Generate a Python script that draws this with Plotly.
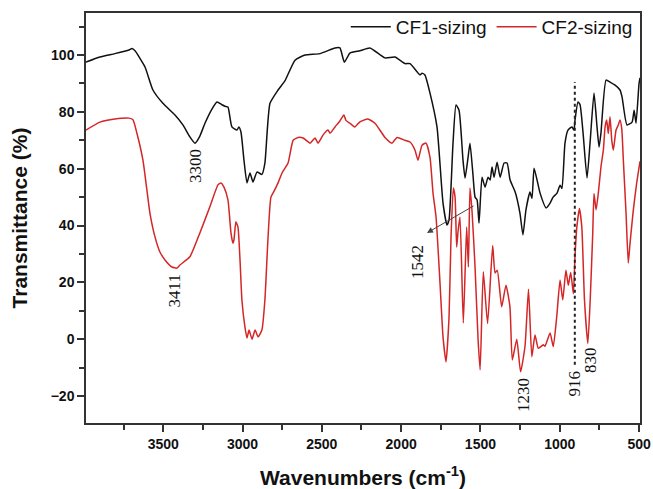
import plotly.graph_objects as go

# CF1-sizing (black) spectrum: wavenumber (cm-1) and transmittance (%)
cf1_wn = [3987, 3899, 3805, 3716, 3697, 3678, 3615, 3565, 3502, 3426, 3376, 3332, 3300, 3269,
          3237, 3193, 3161, 3130, 3111, 3092, 3067, 3035, 3023, 3010, 2991, 2972, 2953, 2934,
          2909, 2878, 2859, 2827, 2776, 2732, 2669, 2606, 2512, 2417, 2386, 2358, 2323, 2260,
          2197, 2102, 2039, 1976, 1944, 1881, 1868, 1850, 1818, 1774, 1736, 1711, 1698, 1673,
          1654, 1635, 1610, 1597, 1578, 1566, 1547, 1534, 1521, 1509, 1490, 1471, 1452, 1439,
          1427, 1414, 1395, 1376, 1351, 1332, 1313, 1281, 1251, 1232, 1213, 1188, 1175, 1162,
          1143, 1124, 1086, 1061, 1042, 1017, 998, 986, 967, 948, 923, 910, 904, 885, 872, 853,
          828, 809, 784, 765, 752, 740, 708, 683, 651, 620, 607, 576, 544, 531, 519, 500, 494]
cf1_t = [97.5, 99.3, 100.5, 101.8, 102.3, 101.5, 95.8, 87.7, 83.0, 78.9, 75.4, 71.2, 69.0, 71.5,
         76.0, 81.0, 83.5, 82.5, 82.0, 81.7, 74.7, 73.6, 74.7, 72.9, 63.0, 55.0, 58.5, 55.3,
         58.8, 58.0, 62.0, 83.0, 87.7, 91.0, 98.2, 100.0, 100.5, 102.5, 102.5, 97.5, 100.7, 101.5,
         102.5, 99.0, 99.3, 97.0, 97.0, 93.0, 93.6, 93.0, 86.6, 74.7, 47.9, 40.2, 42.0, 69.0,
         82.4, 80.6, 63.0, 56.7, 64.0, 69.0, 57.8, 50.0, 49.0, 40.9, 57.0, 53.5, 57.0, 56.0,
         60.6, 57.0, 62.3, 57.0, 62.0, 62.0, 56.0, 51.8, 44.4, 36.7, 45.5, 51.8, 49.5, 60.2,
         56.0, 51.4, 46.2, 47.9, 50.0, 51.4, 54.2, 53.0, 69.0, 73.6, 74.7, 73.6, 77.0, 83.5, 82.5, 72.6,
         56.7, 69.0, 86.6, 74.7, 67.6, 72.6, 91.2, 90.5, 89.4, 87.7, 85.2, 75.4, 76.4, 80.6, 76.0, 90.0, 92.0]

# CF2-sizing (red) spectrum
cf2_wn = [3987, 3899, 3805, 3716, 3691, 3666, 3628, 3603, 3584, 3552, 3521, 3489, 3445, 3414,
          3395, 3332, 3269, 3206, 3155, 3136, 3117, 3092, 3073, 3061, 3054, 3042, 3029, 3016,
          3004, 2985, 2972, 2959, 2940, 2921, 2902, 2878, 2859, 2840, 2821, 2802, 2776, 2751,
          2713, 2681, 2650, 2618, 2599, 2574, 2543, 2524, 2492, 2461, 2448, 2417, 2386, 2361,
          2348, 2323, 2292, 2260, 2210, 2165, 2102, 2058, 2026, 1976, 1944, 1913, 1894, 1868,
          1843, 1818, 1799, 1780, 1755, 1736, 1717, 1698, 1686, 1671, 1660, 1650, 1641, 1629,
          1608, 1587, 1576, 1566, 1553, 1534, 1515, 1502, 1482, 1455, 1423, 1408, 1394, 1366,
          1339, 1314, 1299, 1271, 1247, 1219, 1197, 1176, 1156, 1135, 1104, 1093, 1061, 1041,
          1019, 998, 981, 961, 946, 931, 914, 904, 892, 876, 861, 844, 823, 808, 792, 784, 771,
          757, 740, 725, 714, 704, 694, 683, 672, 662, 645, 631, 620, 609, 599, 582, 568, 557,
          536, 515, 494]
cf2_t = [73.6, 76.4, 77.5, 77.8, 77.2, 72.5, 63.0, 52.5, 44.4, 36.0, 30.7, 27.9, 25.4, 25.0,
         26.1, 29.0, 37.4, 46.6, 54.3, 55.0, 53.5, 49.0, 37.4, 33.8, 35.0, 41.3, 39.5, 28.0,
         13.8, 4.3, 0.4, 3.2, 0.0, 3.2, 0.8, 3.2, 13.8, 35.0, 50.0, 52.0, 55.0, 58.5,
         62.0, 70.0, 71.0, 70.8, 70.0, 69.0, 70.8, 69.0, 71.9, 73.6, 72.5, 74.7, 76.8, 78.9,
         77.0, 76.0, 74.7, 76.5, 77.5, 76.0, 71.0, 69.0, 71.0, 70.0, 69.4, 66.6, 63.0, 68.3,
         69.0, 64.0, 51.4, 43.0, 19.8, 0.8, -8.0, 7.8, 35.0, 53.2, 50.0, 32.4, 38.0, 43.0,
         5.7, 39.5, 25.4, 53.2, 45.0, 25.4, 0.0, -10.8, 23.7, 5.5, 33.0, 23.3, 24.3, 11.4,
         19.0, 11.3, -7.3, 0.0, -11.5, -2.5, 17.6, -6.2, 1.5, -3.2, -2.0, -2.5, 2.2, -2.6,
         7.9, 20.8, 13.8, 24.3, 19.0, 23.5, 16.0, 29.0, 39.6, 46.0, 39.6, 13.8, -1.5, 13.8, 37.3, 51.3, 45.5,
         51.3, 60.7, 66.6, 74.8, 77.1, 72.4, 78.3, 70.0, 66.6, 73.6, 75.4, 77.1, 74.0, 63.0, 44.3, 26.8, 33.7,
         45.5, 54.9, 62.6]

# Peak labels: text, wavenumber, transmittance of label centre
peak_text = ["3300", "3411", "1542", "1230", "916", "830"]
peak_wn = [3297, 3429, 1897, 1229, 910, 803]
peak_t = [61.1, 17.0, 27.3, -19.5, -15.6, -7.3]

marker_wn = 905          # dotted guide line
marker_t = [-9, 90.5]
arrow_tail = (1534, 47.2)
arrow_head = (1837, 37.4)

x_ticks = [3500, 3000, 2500, 2000, 1500, 1000, 500]
y_ticks = [-20, 0, 20, 40, 60, 80, 100]

fig = go.Figure()
fig.add_trace(go.Scatter(x=cf1_wn, y=cf1_t, mode="lines", name="CF1-sizing",
                         line=dict(color="#111111", width=1.5, shape="spline", smoothing=0.5)))
fig.add_trace(go.Scatter(x=cf2_wn, y=cf2_t, mode="lines", name="CF2-sizing",
                         line=dict(color="#d42626", width=1.5, shape="spline", smoothing=0.5)))

fig.add_shape(type="line", x0=marker_wn, x1=marker_wn, y0=marker_t[0], y1=marker_t[1],
              xref="x", yref="y", line=dict(color="#222222", width=2, dash="dot"))

for t, xw, yt in zip(peak_text, peak_wn, peak_t):
    fig.add_annotation(x=xw, y=yt, text=t, showarrow=False, textangle=-90,
                       font=dict(family="Liberation Serif", size=17, color="#111111"),
                       xref="x", yref="y")

fig.add_annotation(x=arrow_head[0], y=arrow_head[1], ax=arrow_tail[0], ay=arrow_tail[1],
                   xref="x", yref="y", axref="x", ayref="y", text="", showarrow=True,
                   arrowhead=2, arrowsize=1.2, arrowwidth=1, arrowcolor="#444444")

axis_common = dict(showline=True, linecolor="#333333", linewidth=1.5, mirror=True,
                   ticks="outside", ticklen=7, tickwidth=1.5, tickcolor="#333333",
                   showgrid=False, zeroline=False, automargin=False,
                   tickfont=dict(family="Liberation Sans", size=14, color="#111111", weight="bold"))

fig.update_xaxes(range=[3987, 494], tickvals=x_ticks,
                 minor=dict(ticks="outside", ticklen=5, tickwidth=1.5, tickcolor="#333333", dtick=250),
                 title=dict(text="Wavenumbers (cm<sup>-1</sup>)", standoff=22,
                            font=dict(family="Liberation Sans", size=21, color="#111111", weight="bold")),
                 **axis_common)
# top margin is zero; the axis domain leaves a 13 px band above the plot so the
# legend can sit inside the paper area without pushing the margins
fig.update_yaxes(range=[-29.5, 114.8], tickvals=y_ticks, domain=[0, 410 / 423],
                 minor=dict(ticks="outside", ticklen=5, tickwidth=1.5, tickcolor="#333333", dtick=10),
                 title=dict(text="Transmittance (%)", standoff=17,
                            font=dict(family="Liberation Sans", size=21, color="#111111", weight="bold")),
                 **axis_common)

fig.update_layout(
    width=653, height=489,
    margin=dict(l=86, r=13, t=0, b=66),
    paper_bgcolor="white", plot_bgcolor="white",
    legend=dict(orientation="h", x=0.996, xanchor="right", y=1 - 8 / 423, yanchor="top",
                bgcolor="rgba(0,0,0,0)", font=dict(family="Liberation Sans", size=19, color="#111111"),
                itemwidth=40, tracegroupgap=0),
)

# remove the default page margin so the figure fills the window exactly
fig.write_html("out.html", config={"displayModeBar": False},
               post_script="document.body.style.margin='0';document.body.style.overflow='hidden';")
